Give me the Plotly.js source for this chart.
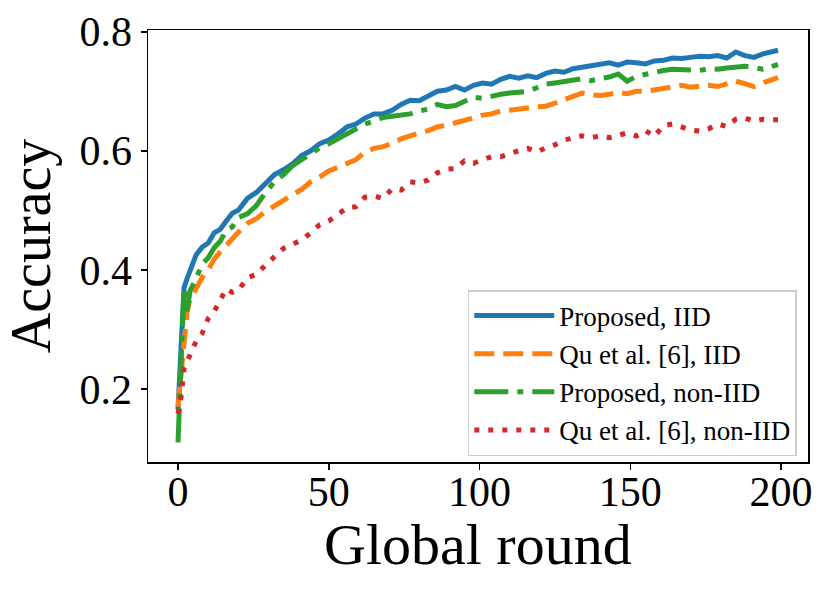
<!DOCTYPE html>
<html>
<head>
<meta charset="utf-8">
<script src="https://cdn.plot.ly/plotly-3.0.1.min.js"></script>
<style>html,body{margin:0;padding:0;background:#fff;}#chart{width:830px;height:595px;}</style>
</head>
<body>
<div id="chart"></div>
<script>
var rounds = [0,1,2,3,4,6,8,10,12,14,16,18,20,23,26,29,32,35,38,41,44,47,50,53,56,59,62,65,68,71,74,77,80,83,86,89,92,95,98,101,104,107,110,113,116,119,122,125,128,131,134,137,140,143,146,149,152,155,158,161,164,167,170,173,176,179,182,185,188,191,194,197,199];

var proposedIID = [0.165,0.27,0.37,0.385,0.40,0.425,0.438,0.445,0.462,0.468,0.482,0.495,0.500,0.520,0.530,0.545,0.560,0.568,0.578,0.592,0.600,0.612,0.618,0.628,0.640,0.645,0.655,0.662,0.662,0.668,0.678,0.685,0.684,0.692,0.700,0.702,0.708,0.702,0.710,0.714,0.712,0.720,0.725,0.722,0.726,0.723,0.730,0.734,0.732,0.738,0.740,0.742,0.744,0.748,0.744,0.749,0.748,0.746,0.751,0.752,0.756,0.755,0.757,0.759,0.758,0.760,0.756,0.766,0.760,0.757,0.763,0.766,0.769];

var quIID = [0.17,0.22,0.29,0.33,0.35,0.37,0.387,0.400,0.418,0.430,0.441,0.455,0.463,0.478,0.486,0.498,0.508,0.516,0.526,0.535,0.548,0.556,0.566,0.572,0.578,0.585,0.598,0.604,0.607,0.612,0.620,0.626,0.630,0.634,0.640,0.643,0.648,0.651,0.655,0.660,0.662,0.667,0.668,0.671,0.672,0.674,0.675,0.680,0.685,0.690,0.697,0.694,0.693,0.695,0.698,0.696,0.700,0.700,0.703,0.706,0.708,0.710,0.707,0.709,0.710,0.708,0.712,0.717,0.713,0.708,0.714,0.720,0.723];

var proposedNonIID = [0.11,0.25,0.37,0.33,0.365,0.385,0.41,0.42,0.437,0.448,0.466,0.472,0.488,0.494,0.508,0.530,0.548,0.560,0.575,0.585,0.595,0.605,0.612,0.620,0.630,0.638,0.645,0.650,0.656,0.658,0.660,0.662,0.667,0.670,0.678,0.674,0.676,0.684,0.690,0.688,0.692,0.695,0.697,0.698,0.700,0.706,0.712,0.714,0.717,0.719,0.721,0.718,0.720,0.724,0.729,0.717,0.725,0.729,0.733,0.735,0.737,0.736,0.737,0.735,0.738,0.737,0.739,0.740,0.742,0.740,0.737,0.742,0.745];

var quNonIID = [0.158,0.186,0.234,0.245,0.258,0.280,0.293,0.318,0.330,0.350,0.368,0.362,0.365,0.387,0.392,0.408,0.422,0.436,0.443,0.450,0.462,0.476,0.482,0.492,0.504,0.506,0.522,0.524,0.520,0.536,0.534,0.548,0.546,0.551,0.563,0.569,0.570,0.583,0.579,0.585,0.590,0.590,0.596,0.600,0.604,0.598,0.605,0.610,0.618,0.622,0.625,0.622,0.625,0.622,0.626,0.630,0.625,0.634,0.624,0.642,0.645,0.640,0.635,0.633,0.637,0.645,0.641,0.653,0.655,0.650,0.653,0.652,0.652];

var seriesNames = ["Proposed, IID", "Qu et al. [6], IID", "Proposed, non-IID", "Qu et al. [6], non-IID"];
var xTicks = [0, 50, 100, 150, 200];
var yTicks = [0.2, 0.4, 0.6, 0.8];

var FONT = "'Liberation Serif', 'DejaVu Serif', serif";

var traces = [
  {x: rounds, y: proposedIID, name: seriesNames[0], mode: "lines",
   line: {color: "#1f77b4", width: 5, dash: "solid"}},
  {x: rounds, y: quIID, name: seriesNames[1], mode: "lines",
   line: {color: "#ff7f0e", width: 5, dash: "20px,9px"}},
  {x: rounds, y: proposedNonIID, name: seriesNames[2], mode: "lines",
   line: {color: "#2ca02c", width: 5, dash: "34px,9px,6px,9px"}},
  {x: rounds, y: quNonIID, name: seriesNames[3], mode: "lines",
   line: {color: "#d62728", width: 5, dash: "5px,9px"}}
];

var layout = {
  width: 830, height: 595,
  margin: {l: 148, r: 22, t: 30, b: 133},
  paper_bgcolor: "#fff", plot_bgcolor: "#fff",
  font: {family: FONT, color: "#000"},
  showlegend: true,
  legend: {
    x: 0.983, y: 0.398, xanchor: "right", yanchor: "top",
    bgcolor: "rgba(255,255,255,0.9)", bordercolor: "#cccccc", borderwidth: 1.5,
    font: {family: FONT, size: 27, color: "#000"},
    itemwidth: 80,
    tracegroupgap: 0
  },
  xaxis: {
    range: [-9.95, 208.95], tickvals: xTicks, ticktext: xTicks.map(String),
    showgrid: false, zeroline: false, showline: true, mirror: true,
    linecolor: "#000", linewidth: 1.5, ticks: "outside", ticklen: 6, tickwidth: 1.5, tickcolor: "#000",
    ticklabelstandoff: -14,
    tickfont: {family: FONT, size: 42, color: "#000"}
  },
  yaxis: {
    range: [0.077, 0.803], tickvals: yTicks, ticktext: yTicks.map(function(v){return v.toFixed(1);}),
    showgrid: false, zeroline: false, showline: true, mirror: true,
    linecolor: "#000", linewidth: 1.5, ticks: "outside", ticklen: 6, tickwidth: 1.5, tickcolor: "#000",
    tickfont: {family: FONT, size: 42, color: "#000"},
    title: {text: "Accuracy", font: {family: FONT, size: 56, color: "#000"}, standoff: 14}
  },
  annotations: [{
    text: "Global round", xref: "paper", yref: "paper", x: 0.5, y: -0.192,
    xanchor: "center", yanchor: "middle", showarrow: false,
    font: {family: FONT, size: 58, color: "#000"}
  }]
};

Plotly.newPlot("chart", traces, layout, {staticPlot: true, displayModeBar: false});
</script>
</body>
</html>
